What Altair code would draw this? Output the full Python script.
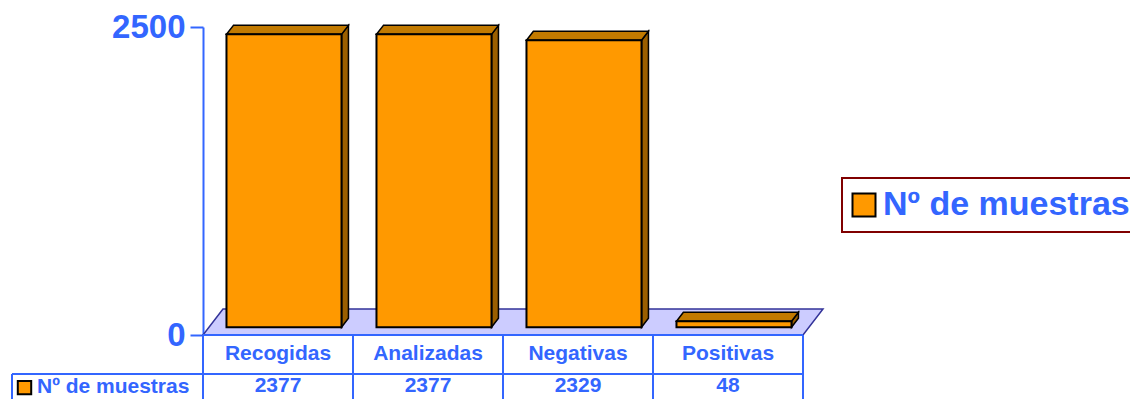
import altair as alt
import pandas as pd

# ---------------- data ----------------
categories = ["Recogidas", "Analizadas", "Negativas", "Positivas"]
values = [2377, 2377, 2329, 48]
series_name = "Nº de muestras"
y_ticks = [0, 2500]

# ---------------- style / geometry ----------------
BLUE = "#3366FF"
ORANGE = "#FF9900"
TOP = "#C27A00"
SIDE = "#9B5F00"
FLOOR = "#CCCCFF"
NAVY = "#333399"
FONT = "Liberation Sans"

n = len(categories)
DX, DY = 0.1333, 211.0       # floor depth in (category units, value units)
ZF, ZB = 0.30, 0.646          # bar front / back depth fractions
HW = 0.3835                   # half bar width (category units)
ROW1_Y, ROW2_LINE, ROW2_Y, HDR_Y = -158, -316.6, -410, -423
TABLE_LEFT, TABLE_BOTTOM = -1.2733, -700

xs = alt.Scale(domain=[0, n], nice=False, zero=False)
ys = alt.Scale(domain=[0, 2500], nice=False, zero=False)
yaxis = alt.Axis(values=y_ticks, format="d", title=None, grid=False, domainColor=BLUE, domainWidth=2,
                 tickColor=BLUE, tickWidth=2, tickSize=13, labelColor=BLUE, labelFontSize=33,
                 labelFontWeight="bold", labelFont=FONT, labelPadding=5)


def X(f="x"):
    return alt.X(f"{f}:Q", scale=xs, axis=None)


def Y(f="y"):
    return alt.Y(f"{f}:Q", scale=ys, axis=yaxis)


# floor
floor_df = pd.DataFrame({"y": [0, DY], "x": [0, DX], "x2": [n, n + DX]})
floor = alt.Chart(floor_df).mark_area(orient="horizontal", fill=FLOOR, stroke=NAVY,
                                      strokeWidth=1.5).encode(y=Y(), x=X(), x2="x2:Q")

# table grid
rules_rows = []
rules_rows.append(dict(x=0, x2=n, y=0, y2=0))
rules_rows.append(dict(x=TABLE_LEFT, x2=n, y=ROW2_LINE, y2=ROW2_LINE))
for i in range(n + 1):
    rules_rows.append(dict(x=i, x2=i, y=0, y2=TABLE_BOTTOM))
rules_rows.append(dict(x=TABLE_LEFT, x2=TABLE_LEFT, y=ROW2_LINE, y2=TABLE_BOTTOM))
grid = alt.Chart(pd.DataFrame(rules_rows)).mark_rule(color=BLUE, strokeWidth=2).encode(
    x=X(), x2="x2:Q", y=Y(), y2="y2:Q")

# bars
front_rows, top_rows, side_rows = [], [], []
for i, (c, v) in enumerate(zip(categories, values)):
    L, R = i + 0.5 - HW, i + 0.5 + HW
    front_rows.append(dict(c=c, s=series_name, x=L + ZF * DX, x2=R + ZF * DX, y=ZF * DY, y2=v + ZF * DY))
    top_rows.append(dict(c=c, y=v + ZF * DY, x=L + ZF * DX, x2=R + ZF * DX))
    top_rows.append(dict(c=c, y=v + ZB * DY, x=L + ZB * DX, x2=R + ZB * DX))
    side_rows.append(dict(c=c, x=R + ZF * DX, y=ZF * DY, y2=v + ZF * DY))
    side_rows.append(dict(c=c, x=R + ZB * DX, y=ZB * DY, y2=v + ZB * DY))

front = alt.Chart(pd.DataFrame(front_rows)).mark_rect(stroke="black", strokeWidth=2).encode(
    x=X(), x2="x2:Q", y=Y(), y2="y2:Q",
    color=alt.Color("s:N", scale=alt.Scale(domain=[series_name], range=[ORANGE]),
                    legend=alt.Legend(title=None, orient="none", legendX=639, legendY=151,
                                      symbolType="square", symbolSize=529,
                                      symbolStrokeColor="black", symbolStrokeWidth=2,
                                      symbolOffset=-5,
                                      labelFont=FONT, labelFontSize=34, labelFontWeight="bold",
                                      labelColor=BLUE, labelLimit=500, labelOffset=2,
                                      padding=10, strokeColor="#800000")))
top = alt.Chart(pd.DataFrame(top_rows)).mark_area(orient="horizontal", fill=TOP, stroke="black",
                                                  strokeWidth=1.5).encode(
    y=Y(), x=X(), x2="x2:Q", detail="c:N")
side = alt.Chart(pd.DataFrame(side_rows)).mark_area(orient="vertical", fill=SIDE, stroke="black",
                                                    strokeWidth=1.5).encode(
    x=X(), y=Y(), y2="y2:Q", detail="c:N")

# table text
cat_df = pd.DataFrame({"x": [i + 0.5 for i in range(n)], "y": [ROW1_Y] * n, "t": categories})
val_df = pd.DataFrame({"x": [i + 0.5 for i in range(n)], "y": [ROW2_Y] * n, "t": [str(v) for v in values]})
txt_style = dict(font=FONT, fontSize=21, fontWeight="bold", color=BLUE, baseline="middle")
cat_text = alt.Chart(cat_df).mark_text(align="center", **txt_style).encode(x=X(), y=Y(), text="t:N")
val_text = alt.Chart(val_df).mark_text(align="center", **txt_style).encode(x=X(), y=Y(), text="t:N")
hdr_df = pd.DataFrame({"x": [-1.1067], "y": [HDR_Y], "t": [series_name]})
hdr_text = alt.Chart(hdr_df).mark_text(align="left", **txt_style).encode(x=X(), y=Y(), text="t:N")
sym_df = pd.DataFrame({"x": [-1.19], "y": [HDR_Y - 4]})
hdr_sym = alt.Chart(sym_df).mark_point(shape="square", filled=True, fill=ORANGE, stroke="black",
                                       strokeWidth=2, size=180, opacity=1).encode(x=X(), y=Y())

chart = alt.layer(floor, grid, side, top, front, cat_text, val_text, hdr_text, hdr_sym).properties(
    width=600, height=308,
    padding={"left": 195, "top": 19, "right": 327, "bottom": 64},
    autosize=alt.AutoSizeParams(type="none"),
    background="white",
).configure(font=FONT).configure_view(stroke=None).configure_legend(strokeWidth=2)

chart.save("out.html", embed_options={"renderer": "svg", "actions": False})
